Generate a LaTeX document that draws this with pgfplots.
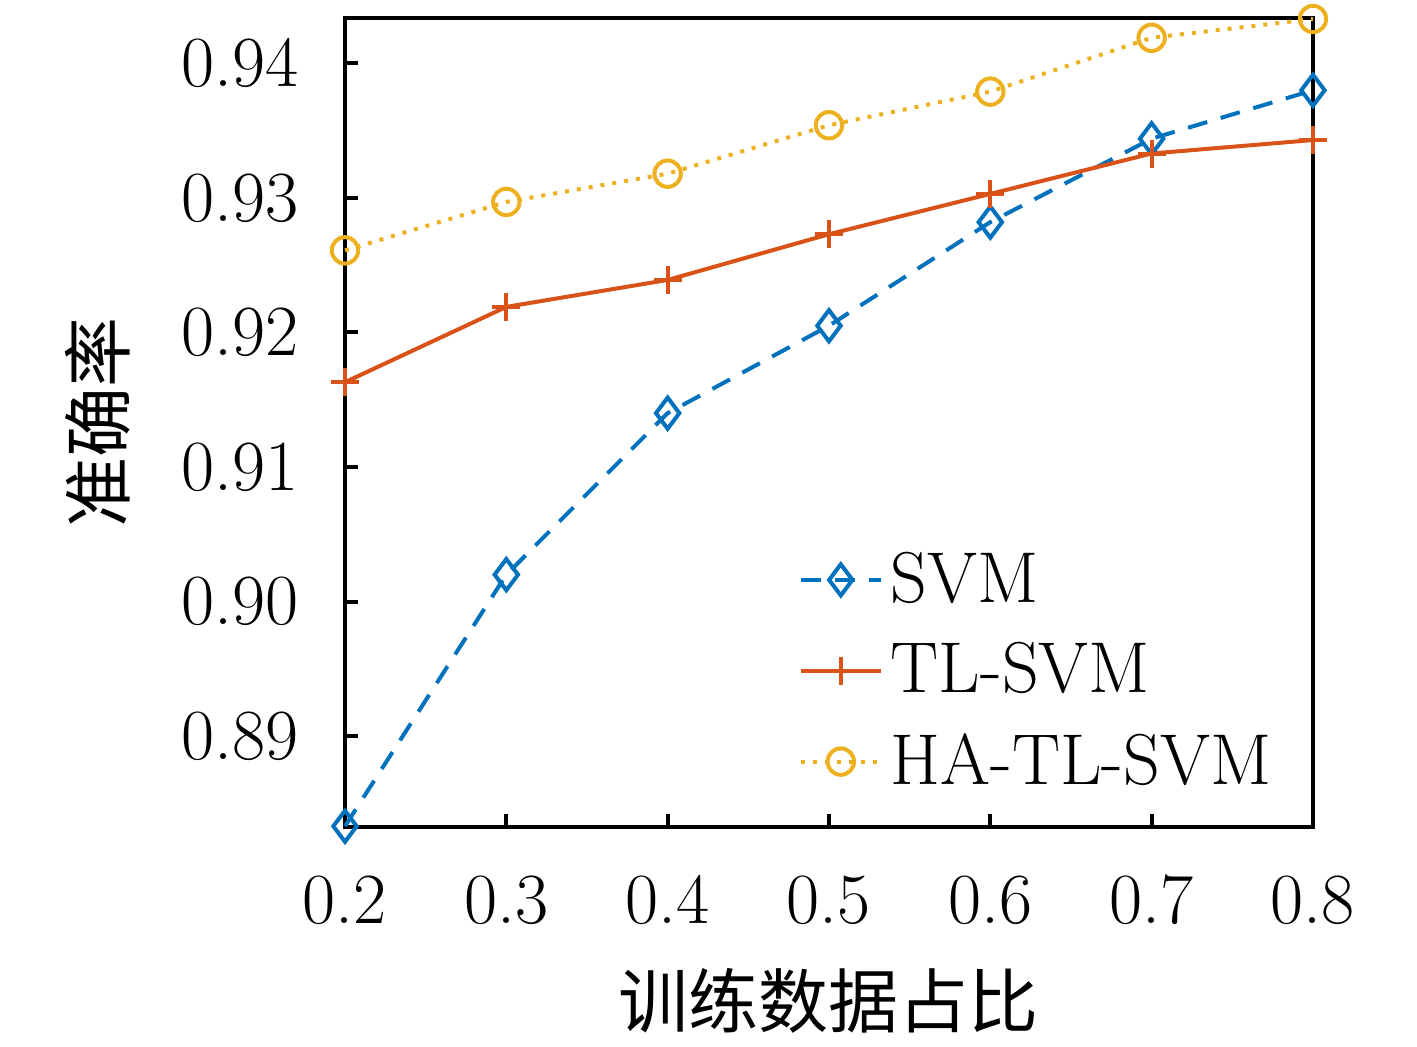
\documentclass[border=0pt]{standalone}
\usepackage{fontspec}
\usepackage{pgfplots}
\pgfplotsset{compat=1.18}
\newfontfamily\cjk{Noto Sans CJK SC}
\definecolor{mblue}{rgb}{0,0.447,0.741}
\definecolor{morange}{rgb}{0.85,0.325,0.098}
\definecolor{myellow}{rgb}{0.929,0.694,0.125}
\begin{document}
\begin{tikzpicture}
\begin{axis}[
  scale only axis,
  width=242pt, height=202.25pt,
  xmin=0.2, xmax=0.8,
  ymin=0.88324, ymax=0.94337,
  xtick={0.2,0.3,0.4,0.5,0.6,0.7,0.8},
  ytick={0.89,0.90,0.91,0.92,0.93,0.94},
  xticklabels={0.2,0.3,0.4,0.5,0.6,0.7,0.8},
  yticklabels={0.89,0.90,0.91,0.92,0.93,0.94},
  tick align=inside,
  xtick pos=bottom, ytick pos=left,
  major tick length=3.3pt,
  axis line style={line width=1pt},
  every tick/.style={black, line width=1pt},
  tick label style={font=\fontsize{18}{21}\selectfont},
  xticklabel style={anchor=center, yshift=-18.25pt},
  yticklabel style={xshift=-8.1pt},
  every axis x label/.style={at={(axis description cs:0.5,0)}, yshift=-43.5pt, anchor=center, font=\fontsize{17.5}{20}\selectfont\cjk},
  every axis y label/.style={at={(axis description cs:0,0.5)}, xshift=-61.75pt, rotate=90, anchor=center, font=\fontsize{17.5}{20}\selectfont\cjk},
  xlabel={训练数据占比},
  ylabel={准确率},
  clip=false,
  legend style={draw=none, fill=none, at={(0.468,0.193)}, anchor=west,
    font=\fontsize{18}{21}\selectfont, row sep=4.6pt, inner sep=0pt},
  legend cell align=left,
  legend image code/.code={%
    \draw[#1, mark repeat=2, mark phase=2] plot coordinates {(0pt,0pt) (10pt,0pt) (20pt,0pt)};},
]
\addplot[color=mblue, line width=1pt, dash pattern=on 5pt off 3.5pt, mark=diamond, mark size=3.9pt, mark options={solid, line width=1pt}]
coordinates {(0.2,0.8833) (0.3,0.9020) (0.4,0.9140) (0.5,0.9205) (0.6,0.9282) (0.7,0.9344) (0.8,0.9380)};
\addlegendentry{SVM}
\addplot[color=morange, line width=1pt, mark=+, mark size=3.5pt, mark options={solid, line width=1pt}]
coordinates {(0.2,0.9163) (0.3,0.9219) (0.4,0.9239) (0.5,0.9273) (0.6,0.9303) (0.7,0.9333) (0.8,0.9343)};
\addlegendentry{TL-SVM}
\addplot[color=myellow, line width=1pt, dash pattern=on 1pt off 2pt, mark=o, mark size=3.3pt, mark options={solid, line width=1pt}]
coordinates {(0.2,0.9261) (0.3,0.9297) (0.4,0.9318) (0.5,0.9354) (0.6,0.9379) (0.7,0.9419) (0.8,0.9433)};
\addlegendentry{HA-TL-SVM}
\end{axis}
\useasboundingbox (current axis.south west) ++(-86.25pt,-52.5pt) rectangle ++(354.25pt,259.25pt);
\end{tikzpicture}
\end{document}
